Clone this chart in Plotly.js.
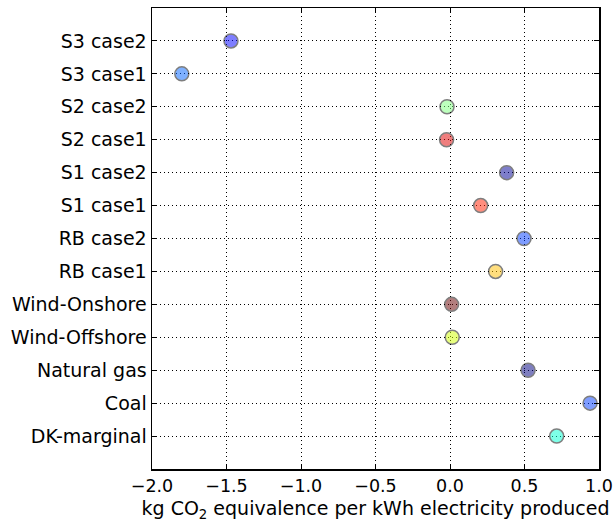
<!DOCTYPE html>
<html>
<head>
<meta charset="utf-8">
<script src="https://cdn.plot.ly/plotly-3.0.1.min.js"></script>
<style>html,body{margin:0;padding:0;background:#fff;}#chart{width:615px;height:526px;}</style>
</head>
<body>
<div id="chart"></div>
<script>
const categories = ["S3 case2","S3 case1","S2 case2","S2 case1","S1 case2","S1 case1","RB case2","RB case1","Wind-Onshore","Wind-Offshore","Natural gas","Coal","DK-marginal"];
const values = [-1.47, -1.80, -0.02, -0.023, 0.38, 0.206, 0.497, 0.306, 0.011, 0.015, 0.524, 0.94, 0.716];
const colors = ["#0000ff","#0064ff","#7dff7d","#e00000","#000096","#ff2000","#003cff","#ffbe00","#690000","#d2ff00","#000080","#003cff","#00ffd2"];
const xTicks = [-2.0, -1.5, -1.0, -0.5, 0.0, 0.5, 1.0];

const font = {family: "DejaVu Sans", size: 17.5, color: "#000"};
const yfont = {family: "DejaVu Sans", size: 19, color: "#000"};
Plotly.newPlot("chart", [{
  type: "scatter", mode: "markers",
  x: values, y: categories,
  marker: {size: 14, color: colors, opacity: 0.5, line: {color: "#000", width: 1.5}},
  cliponaxis: false,
  hoverinfo: "x+y"
}], {
  width: 615, height: 526,
  margin: {l: 152, r: 16, t: 8, b: 57},
  paper_bgcolor: "#fff", plot_bgcolor: "#fff",
  font: font,
  showlegend: false,
  xaxis: {
    range: [-2.0, 1.0], tickvals: xTicks, tickformat: ".1f",
    showgrid: true, gridcolor: "#000", griddash: "1px,3px", gridwidth: 1,
    zeroline: false, showline: true, linecolor: "#000", linewidth: 1.5, mirror: "ticks",
    ticks: "inside", ticklen: 5, tickcolor: "#000",
    tickfont: font,
    title: {text: "kg CO<sub>2</sub> equivalence per kWh electricity produced", font: yfont, standoff: 7}
  },
  yaxis: {
    type: "category", categoryarray: categories, categoryorder: "array",
    range: [13, -1],
    showgrid: true, gridcolor: "#000", griddash: "1px,3px", gridwidth: 1,
    zeroline: false, showline: true, linecolor: "#000", linewidth: 1.5, mirror: "ticks",
    ticks: "inside", ticklen: 5, tickcolor: "#000",
    tickfont: yfont
  }
}, {displayModeBar: false, staticPlot: true});
</script>
</body>
</html>
